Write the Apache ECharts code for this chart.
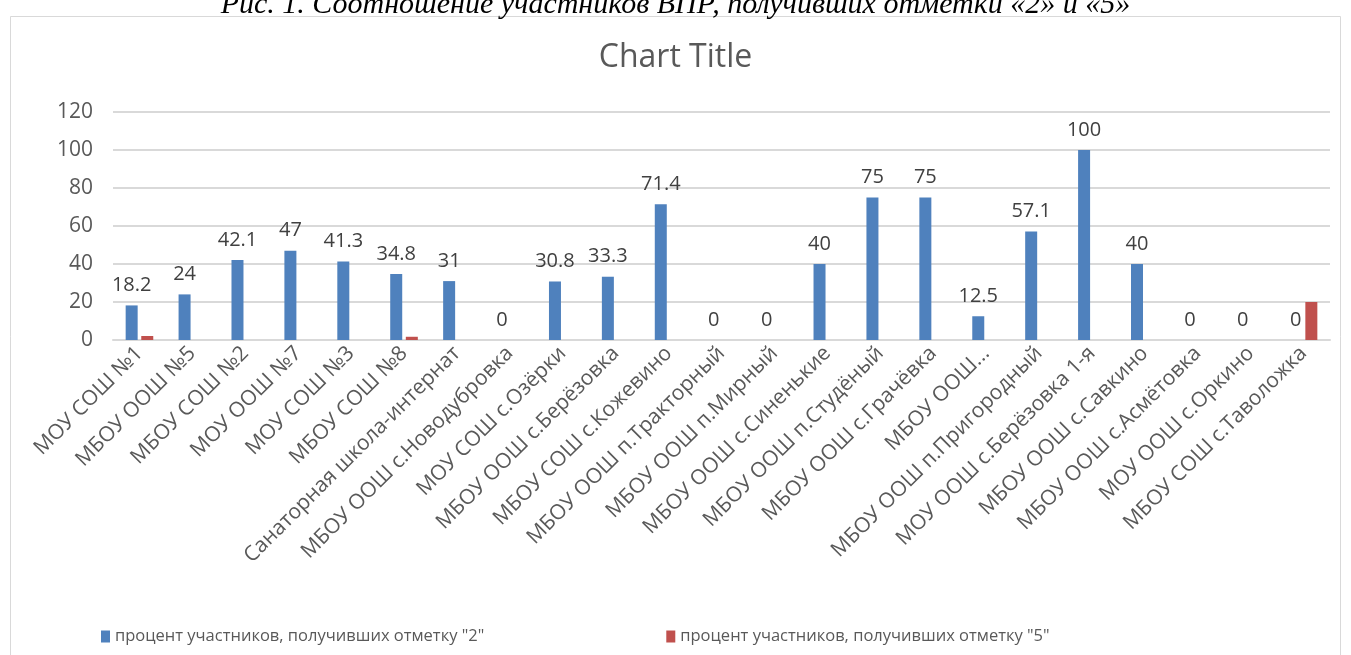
<!DOCTYPE html>
<html>
<head>
<meta charset="utf-8">
<script src="https://cdn.jsdelivr.net/npm/echarts@6/dist/echarts.min.js"></script>
<style>
html,body{margin:0;padding:0;background:#fff;overflow:hidden;}
#cap{position:absolute;left:0;width:1351px;top:-14px;text-align:center;font-family:"Liberation Serif","DejaVu Serif",serif;font-style:italic;font-size:30px;line-height:34px;color:#000;white-space:nowrap;}
#chart{position:absolute;left:0;top:0;width:1351px;height:655px;}
</style>
</head>
<body>
<div id="chart"></div>
<div id="cap">Рис. 1. Соотношение участников ВПР, получивших отметки «2» и «5»</div>
<script>
const categories = [
  "МОУ СОШ №1","МБОУ ООШ №5","МБОУ СОШ №2","МОУ ООШ №7","МОУ СОШ №3","МБОУ СОШ №8",
  "Санаторная школа-интернат","МБОУ ООШ с.Новодубровка","МОУ СОШ с.Озёрки","МБОУ ООШ с.Берёзовка",
  "МБОУ СОШ с.Кожевино","МБОУ ООШ п.Тракторный","МБОУ ООШ п.Мирный","МБОУ ООШ с.Синенькие",
  "МБОУ ООШ п.Студёный","МБОУ ООШ с.Грачёвка","МБОУ ООШ...","МБОУ ООШ п.Пригородный",
  "МОУ ООШ с.Берёзовка 1-я","МБОУ ООШ с.Савкино","МБОУ ООШ с.Асмётовка","МОУ ООШ с.Оркино",
  "МБОУ СОШ с.Таволожка"
];
const series2Name = 'процент участников, получивших отметку "2"';
const series5Name = 'процент участников, получивших отметку "5"';
const grade2 = [18.2,24,42.1,47,41.3,34.8,31,0,30.8,33.3,71.4,0,0,40,75,75,12.5,57.1,100,40,0,0,0];
const grade5 = [2.1,0,0,0,0,1.7,0,0,0,0,0,0,0,0,0,0,0,0,0,0,0,0,20];
const yTicks = {min:0, max:120, interval:20};

const chart = echarts.init(document.getElementById('chart'), null, {renderer:'canvas'});
const font = '"Open Sans", "Noto Sans", sans-serif';
chart.setOption({
  animation:false,
  backgroundColor:'#fff',
  textStyle:{fontFamily:font},
  title:{
    text:'Chart Title', left:'center', top:37,
    textStyle:{fontFamily:font, fontSize:32, fontWeight:'normal', color:'#595959'}
  },
  graphic:[{
    type:'rect', shape:{x:10.5, y:16.5, width:1330, height:700},
    style:{fill:'none', stroke:'#d9d9d9', lineWidth:1}, silent:true, z:-1
  }],
  legend:{
    left:96, top:623, itemWidth:9, itemHeight:12, itemGap:182,
    icon:'rect',
    textStyle:{fontFamily:font, fontSize:16.5, color:'#595959'},
    data:[series2Name, series5Name]
  },
  grid:{left:113, right:21, top:112, bottom:315, containLabel:false},
  xAxis:{
    type:'category', data:categories,
    axisLine:{lineStyle:{color:'#d9d9d9', width:2}},
    axisTick:{show:false},
    axisLabel:{interval:0, rotate:45, color:'#595959', fontSize:21, fontFamily:font, margin:10}
  },
  yAxis:{
    type:'value', min:yTicks.min, max:yTicks.max, interval:yTicks.interval,
    axisLine:{show:false}, axisTick:{show:false},
    axisLabel:{color:'#595959', fontSize:21, fontFamily:font, margin:20},
    splitLine:{lineStyle:{color:'#d9d9d9', width:2}}
  },
  series:[
    {name:series2Name, type:'bar', data:grade2, barWidth:12, barGap:'30%',
     itemStyle:{color:'#4f81bd'},
     label:{show:true, position:'top', distance:10, color:'#404040', fontSize:20, fontFamily:font}},
    {name:series5Name, type:'bar', data:grade5, barWidth:12,
     itemStyle:{color:'#c0504d'}}
  ]
});
</script>
</body>
</html>
